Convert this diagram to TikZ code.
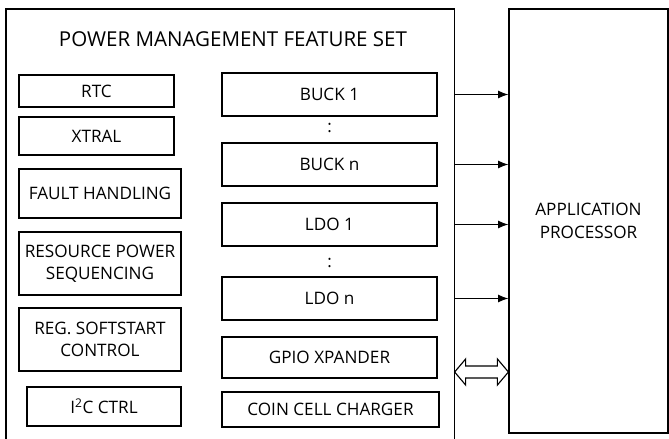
\documentclass[tikz,border=0pt]{standalone}
\usepackage{fontspec}
\setmainfont{Open Sans}
\usetikzlibrary{arrows.meta,calc}

\tikzset{
    blk/.style={draw, line width=0.8pt, inner sep=0pt, align=center, font=\fontsize{12.2}{16}\selectfont},
    link/.style={line width=0.8pt, -{Latex[length=2.6mm,width=2mm]}}
}

\begin{document}
\begin{tikzpicture}[x=0.025cm, y=-0.025cm]
            \clip (0,0) rectangle (669,439);

            \node[draw, line width=0.8pt, minimum width=11.2cm, minimum height=11.3cm, inner sep=0pt] (pm) at (230,235) {};
            \node[font=\fontsize{14.6}{17}\selectfont] (title) at (233,39) {POWER MANAGEMENT FEATURE SET};

            \node[blk, minimum width=3.975cm, minimum height=10.6cm] (ap) at (588.5,221) {APPLICATION\\PROCESSOR};

            \node[blk, minimum width=3.875cm, minimum height=0.8cm] (rtc) at (96.5,91) {RTC};
            \node[blk, minimum width=3.875cm, minimum height=0.95cm] (xtral) at (96.5,136) {XTRAL};
            \node[blk, minimum width=4.05cm, minimum height=1.225cm] (fault) at (100,193.5) {FAULT HANDLING};
            \node[blk, minimum width=4.05cm, minimum height=1.575cm] (seq) at (100,263.5) {RESOURCE POWER\\SEQUENCING};
            \node[blk, minimum width=4.05cm, minimum height=1.575cm] (soft) at (100,339.5) {REG. SOFTSTART\\CONTROL};
            \node[blk, minimum width=3.85cm, minimum height=0.975cm] (iic) at (104,406.5) {I\textsuperscript{2}C CTRL};

            \node[blk, minimum width=5.375cm, minimum height=1.075cm] (buck1) at (329.5,94.5) {BUCK 1};
            \node[font=\fontsize{12}{14}\selectfont] (dotsA) at (329.5,128) {:};
            \node[blk, minimum width=5.375cm, minimum height=1.075cm] (buckn) at (329.5,164.5) {BUCK n};
            \node[blk, minimum width=5.375cm, minimum height=1.075cm] (ldo1) at (329.5,224.5) {LDO 1};
            \node[font=\fontsize{12}{14}\selectfont] (dotsB) at (329.5,263) {:};
            \node[blk, minimum width=5.375cm, minimum height=1.075cm] (ldon) at (329.5,298.5) {LDO n};
            \node[blk, minimum width=5.375cm, minimum height=1.025cm] (gpio) at (329.5,357.5) {GPIO XPANDER};
            \node[blk, minimum width=5.425cm, minimum height=0.875cm] (coin) at (330.5,409.5) {COIN CELL CHARGER};

            \draw[link] (pm.east |- buck1) -- (ap.west |- buck1);
            \draw[link] (pm.east |- buckn) -- (ap.west |- buckn);
            \draw[link] (pm.east |- ldo1) -- (ap.west |- ldo1);
            \draw[link] (pm.east |- ldon) -- (ap.west |- ldon);

            % hollow bus arrow
            \coordinate (busL) at (pm.east |- 0,372);
            \coordinate (busR) at (ap.west |- 0,372);
            \draw[line width=0.8pt] (busL) -- ++(11,-13) -- ++(0,7) -- ($(busR)+(-11,-6)$) -- ++(0,-7) -- (busR)
                -- ++(-11,13) -- ++(0,-7) -- ($(busL)+(11,6)$) -- ++(0,7) -- cycle;
\end{tikzpicture}
\end{document}
